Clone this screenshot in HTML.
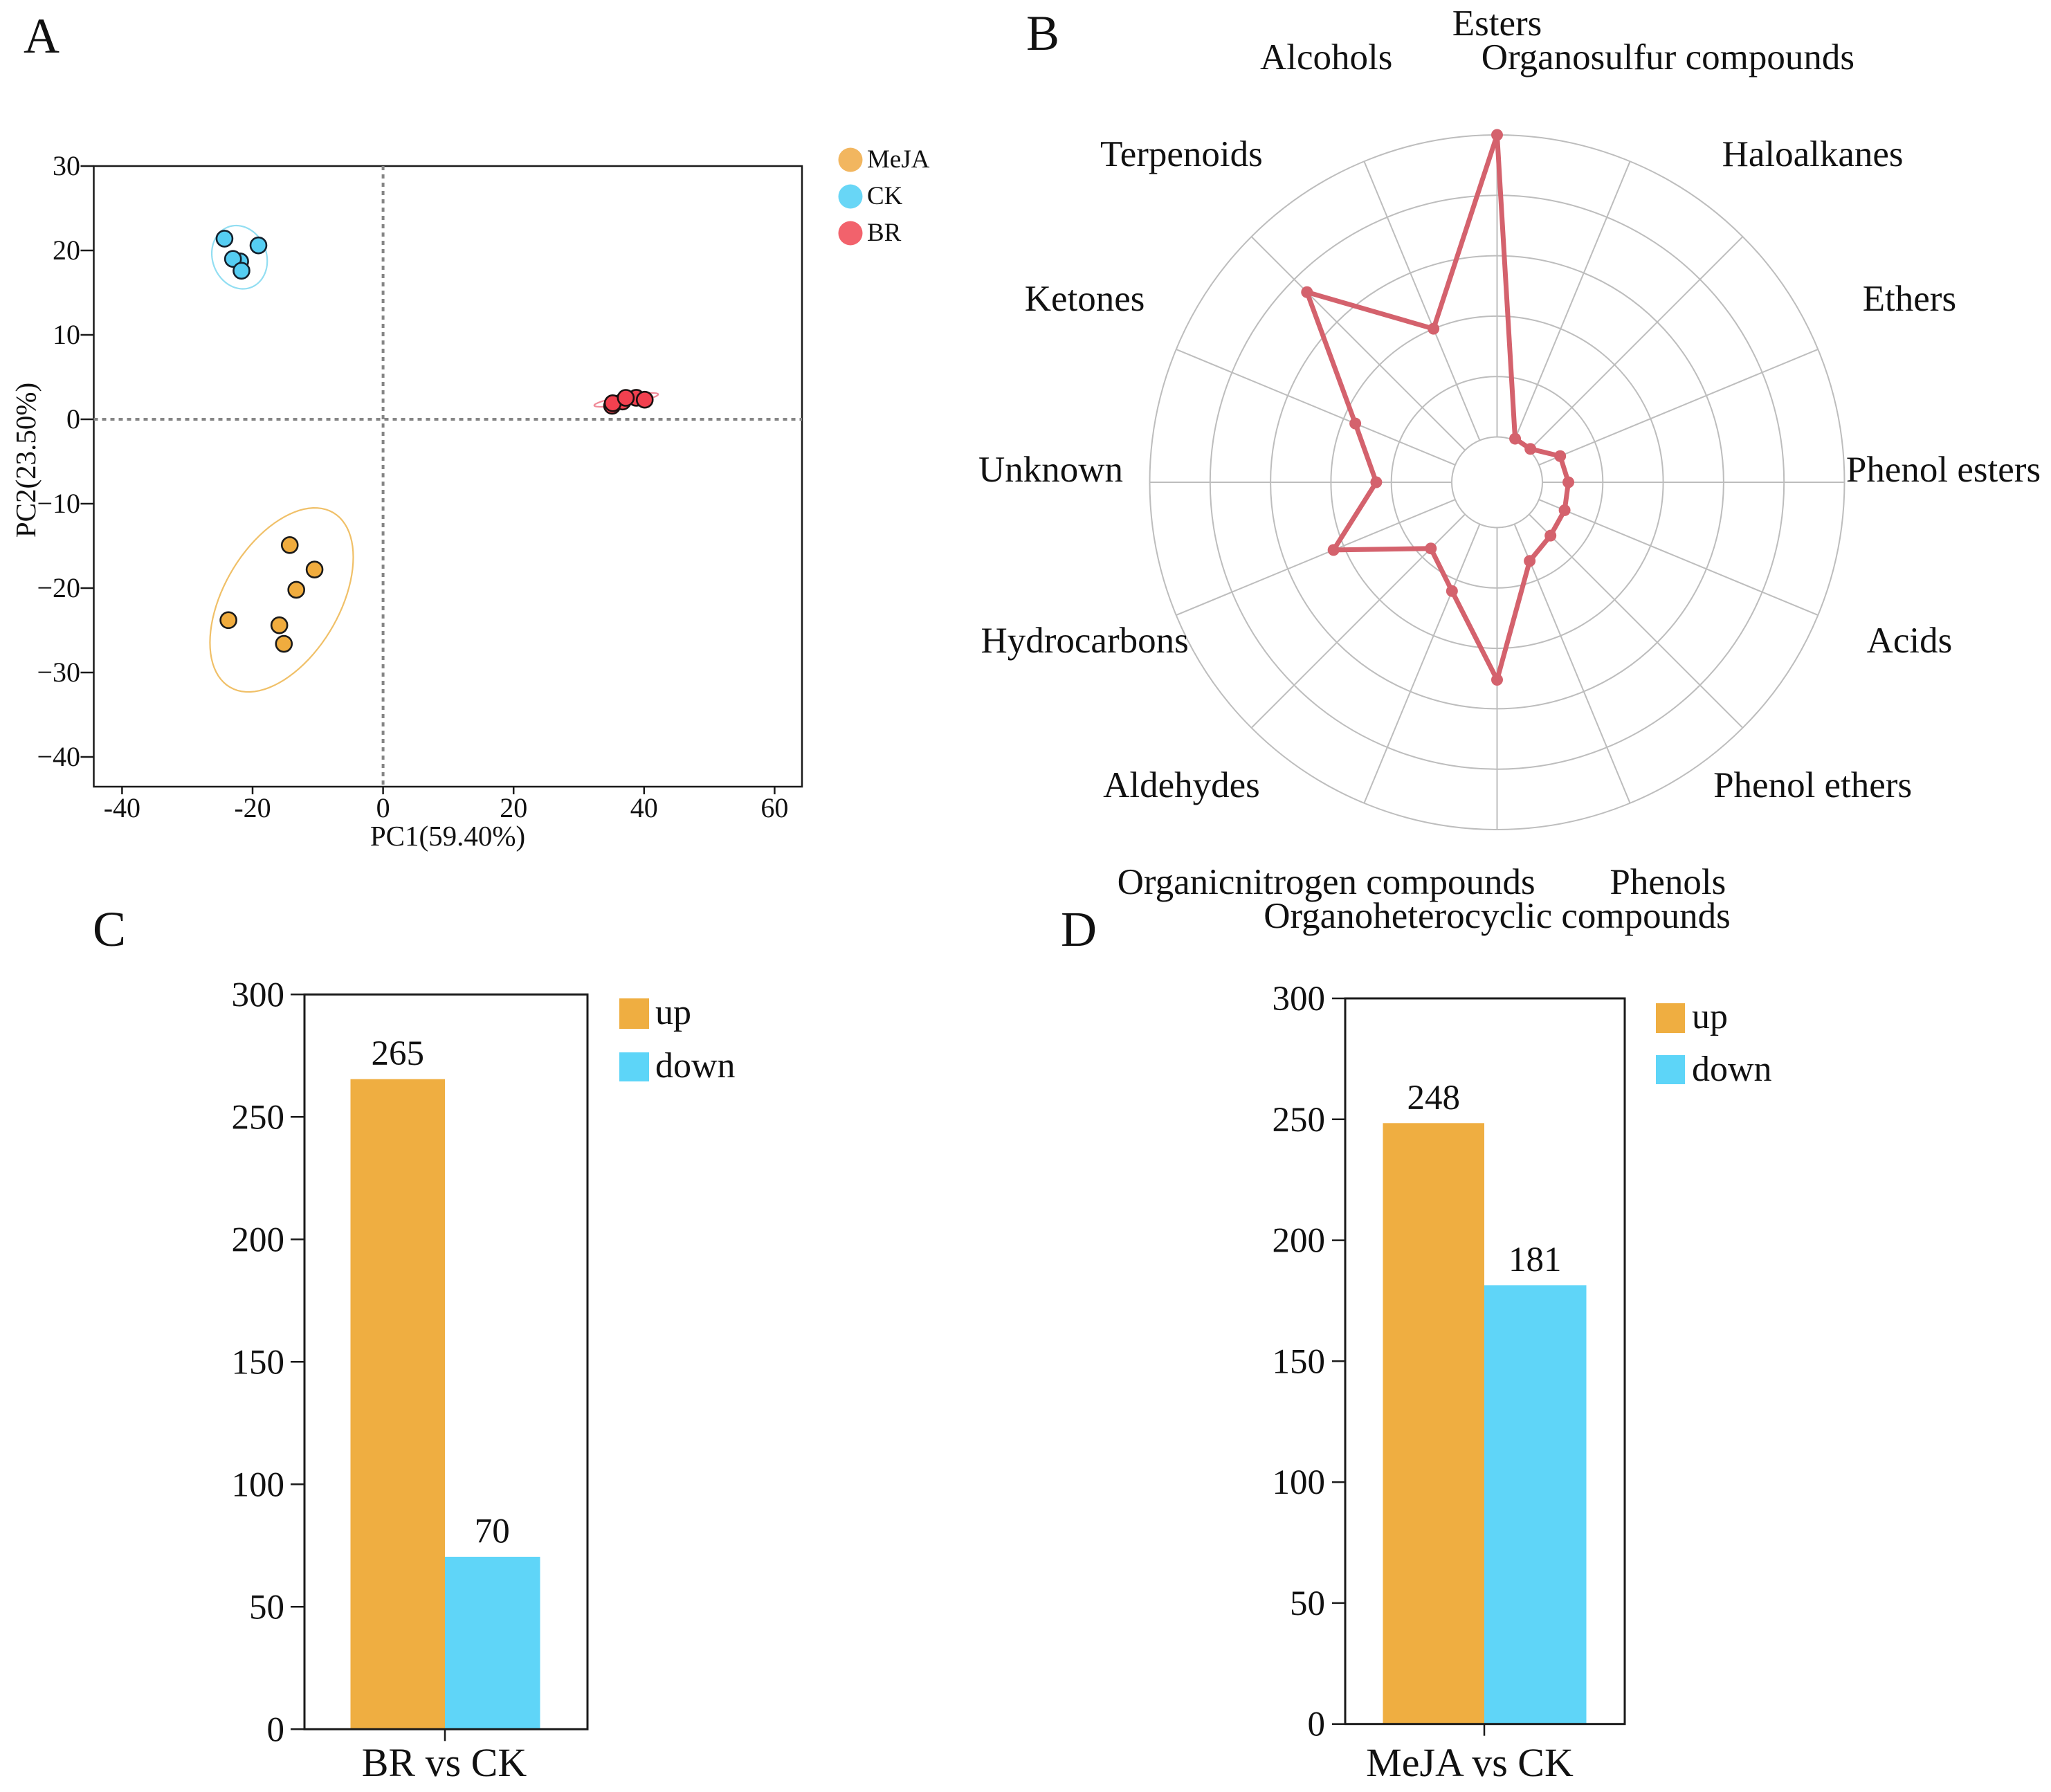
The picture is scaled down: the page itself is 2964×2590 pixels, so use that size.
<!DOCTYPE html>
<html lang="en">
<head>
<meta charset="utf-8">
<title>PCA, radar and differential metabolite bar charts</title>
<style>
html,body{margin:0;padding:0;background:#fff;}
svg{display:block;}
text{font-family:"Liberation Serif","Times New Roman",serif;fill:#111;}
</style>
</head>
<body>
<svg id="figure" xmlns="http://www.w3.org/2000/svg" width="2964" height="2590" viewBox="0 0 2964 2590">
  <rect x="0" y="0" width="2964" height="2590" fill="#fff"/>
  <text x="34" y="76" font-size="72">A</text>
  <text x="1483" y="72" font-size="72">B</text>
  <text x="134" y="1367" font-size="72">C</text>
  <text x="1533" y="1367" font-size="72">D</text>

  <g id="pca"></g>
  <text x="647" y="1222" font-size="41" text-anchor="middle">PC1(59.40%)</text>
  <text x="0" y="0" font-size="41" text-anchor="middle" transform="translate(51 665) rotate(-90)">PC2(23.50%)</text>
  <g>
    <circle cx="1229" cy="231" r="17.5" fill="#f2b65f"/>
    <text x="1253" y="242" font-size="37">MeJA</text>
    <circle cx="1229" cy="284" r="17.5" fill="#68d6f6"/>
    <text x="1253" y="295" font-size="37">CK</text>
    <circle cx="1229" cy="337" r="17.5" fill="#f2626c"/>
    <text x="1253" y="348" font-size="37">BR</text>
  </g>

  <g id="radar"></g>

  <g id="barC"></g>
  <g>
    <rect x="895" y="1443" width="43" height="44" fill="#efae41"/>
    <text x="947" y="1480" font-size="52">up</text>
    <rect x="895" y="1521" width="43" height="42" fill="#5dd5f8"/>
    <text x="947" y="1557" font-size="52">down</text>
  </g>

  <g id="barD"></g>
  <g>
    <rect x="2393" y="1450" width="42" height="43" fill="#efae41"/>
    <text x="2445" y="1486" font-size="52">up</text>
    <rect x="2393" y="1525" width="42" height="42" fill="#5dd5f8"/>
    <text x="2445" y="1562" font-size="52">down</text>
  </g>
</svg>

<script>
/* ---------- PCA data ---------- */
const pcaXTicks = [-40, -20, 0, 20, 40, 60];
const pcaYTicks = [30, 20, 10, 0, -10, -20, -30, -40];
const mejaPc1 = [-14.3, -10.5, -13.3, -23.7, -15.9, -15.2];
const mejaPc2 = [-14.9, -17.8, -20.2, -23.8, -24.4, -26.6];
const ckPc1 = [-24.3, -19.1, -21.9, -23.0, -21.7];
const ckPc2 = [21.4, 20.6, 18.7, 19.0, 17.6];
const brPc1 = [35.1, 38.8, 36.7, 35.2, 37.2, 40.1];
const brPc2 = [1.6, 2.55, 2.1, 1.9, 2.54, 2.32];
const mejaEllipse = [-15.55, -21.4, 10.98, 10.9, 0.464];
const ckEllipse = [-22.0, 19.2, 4.25, 3.75, -0.12];
const brEllipse = [37.26, 2.3, 4.9, 0.82, 0.8];

/* ---------- Radar data ---------- */
const radarCategories = ["Esters", "Organosulfur compounds", "Haloalkanes", "Ethers", "Phenol esters", "Acids", "Phenol ethers", "Phenols", "Organoheterocyclic compounds", "Organicnitrogen compounds", "Aldehydes", "Hydrocarbons", "Unknown", "Ketones", "Terpenoids", "Alcohols"];
const radarValues = [5, 0.03, 0.03, 0.38, 0.43, 0.46, 0.5, 0.66, 2.52, 1.2, 0.8, 2.18, 1.25, 1.79, 3.7, 2.0];
const radarRings = [0, 1, 2, 3, 4, 5];

/* ---------- Bar data ---------- */
const barTicks = [0, 50, 100, 150, 200, 250, 300];
const barCValues = [265, 70];
const barDValues = [248, 181];

const NS = "http://www.w3.org/2000/svg";
function mk(tag, attrs, parent, txt) {
  const el = document.createElementNS(NS, tag);
  for (const k in attrs) el.setAttribute(k, attrs[k]);
  if (txt !== undefined) el.textContent = txt;
  parent.appendChild(el);
  return el;
}
function fmt(n) { return n.toFixed(2); }

/* ---------- PCA ---------- */
(function () {
  const g = document.getElementById('pca');
  const L = 135.5, R = 1159, T = 240, B = 1137;
  const xA = v => 553.6 + v * 9.43;
  const yA = v => 606 - v * 12.2;

  const frame = mk('rect', {x: L, y: T, width: R - L, height: B - T, fill: 'none', stroke: '#1a1a1a', 'stroke-width': 2.5}, g);
  
  

  const hz = mk('line', {x1: L, x2: R, y1: yA(0), y2: yA(0), stroke: '#858585', 'stroke-width': 4, 'stroke-dasharray': '6 6'}, g);
  
  
  const vt = mk('line', {x1: xA(0), x2: xA(0), y1: T, y2: B, stroke: '#858585', 'stroke-width': 4, 'stroke-dasharray': '6 6'}, g);
  
  

  pcaXTicks.forEach(v => {
    const t = mk('line', {x1: xA(v), x2: xA(v), y1: B, y2: B + 11, stroke: '#1a1a1a', 'stroke-width': 2.5}, g);
    
    
    const l = mk('text', {x: xA(v), y: 1181, 'font-size': 40, 'text-anchor': 'middle'}, g, String(v));
    
    
  });
  pcaYTicks.forEach(v => {
    const t = mk('line', {x1: L - 19, x2: L, y1: yA(v), y2: yA(v), stroke: '#1a1a1a', 'stroke-width': 2.5}, g);
    
    
    const l = mk('text', {x: 116, y: yA(v) + 13, 'font-size': 40, 'text-anchor': 'end'}, g, String(v).replace('-', '\u2212'));
    
    
  });

  function ellipsePath(e) {
    const delta = Math.acos(e[4]);
    let d = '';
    for (let i = 0; i <= 90; i++) {
      const t = i / 90 * 2 * Math.PI;
      const px = xA(e[0] + e[2] * Math.cos(t));
      const py = yA(e[1] + e[3] * Math.cos(t - delta));
      d += (i ? 'L' : 'M') + fmt(px) + ' ' + fmt(py);
    }
    return d + 'Z';
  }
  const eM = mk('path', {d: ellipsePath(mejaEllipse), fill: 'none', stroke: '#f0c068', 'stroke-width': 2.2}, g);
  
  
  const eC = mk('path', {d: ellipsePath(ckEllipse), fill: 'none', stroke: '#92def2', 'stroke-width': 2.2}, g);
  
  
  const eB = mk('path', {d: ellipsePath(brEllipse), fill: 'none', stroke: '#f08a98', 'stroke-width': 2.2}, g);
  
  

  mejaPc1.forEach((x, i) => {
    const c = mk('circle', {cx: xA(x), cy: yA(mejaPc2[i]), r: 11.5, fill: '#f0ac3e', stroke: '#1a1a1a', 'stroke-width': 2.6}, g);
    
    
  });
  ckPc1.forEach((x, i) => {
    const c = mk('circle', {cx: xA(x), cy: yA(ckPc2[i]), r: 11.5, fill: '#55cdf2', stroke: '#14202c', 'stroke-width': 2.6}, g);
    
    
  });
  brPc1.forEach((x, i) => {
    const c = mk('circle', {cx: xA(x), cy: yA(brPc2[i]), r: 11.5, fill: '#f2404f', stroke: '#1a1010', 'stroke-width': 2.6}, g);
    
    
  });
})();

/* ---------- Radar ---------- */
(function () {
  const g = document.getElementById('radar');
  const cx = 2163.5, cy = 697;
  const rad = v => 65.5 + v * 87.3;
  const ang = i => i / radarCategories.length * 2 * Math.PI;
  const px = (r, i) => cx + r * Math.sin(ang(i));
  const py = (r, i) => cy - r * Math.cos(ang(i));
  const maxRing = radarRings[radarRings.length - 1];

  radarRings.forEach(v => {
    const c = mk('circle', {cx: cx, cy: cy, r: rad(v), fill: 'none', stroke: '#bdbdbd', 'stroke-width': 2}, g);
    
    
  });
  radarCategories.forEach((name, i) => {
    const s = mk('line', {x1: px(rad(0), i), y1: py(rad(0), i), x2: px(rad(maxRing), i), y2: py(rad(maxRing), i), stroke: '#bdbdbd', 'stroke-width': 2}, g);
    
    
    const l = mk('text', {x: px(645, i), y: py(645, i) - 1, 'font-size': 53, 'text-anchor': 'middle'}, g, name);
    
    
  });
  const pts = radarValues.map((v, i) => fmt(px(rad(v), i)) + ',' + fmt(py(rad(v), i))).join(' ');
  const line = mk('polygon', {points: pts, fill: 'none', stroke: '#d4626d', 'stroke-width': 7, 'stroke-linejoin': 'round'}, g);
  
  
  radarValues.forEach((v, i) => {
    const d = mk('circle', {cx: px(rad(v), i), cy: py(rad(v), i), r: 8.5, fill: '#d4626d'}, g);
    
    
  });
})();

/* ---------- Bars ---------- */
function drawBars(g, o, values, category) {
  const y = v => o.y0 - v * (o.y0 - o.y300) / 300;
  const w = o.barW;
  const pad = 1.5;
  barTicks.forEach(v => {
    const t = mk('line', {x1: o.tickX, x2: o.left, y1: y(v), y2: y(v), stroke: '#1a1a1a', 'stroke-width': 2.5}, g);
    
    
    const l = mk('text', {x: o.labelX, y: y(v) + 17, 'font-size': 51, 'text-anchor': 'end'}, g, String(v));
    
    
  });
  const up = mk('rect', {x: o.mid - w, y: y(values[0]) - pad, width: w, height: o.y0 - y(values[0]) + pad, fill: '#efae41'}, g);
  
  
  const down = mk('rect', {x: o.mid, y: y(values[1]) - pad, width: w + 1, height: o.y0 - y(values[1]) + pad, fill: '#5fd5f8'}, g);
  
  
  const lu = mk('text', {x: o.mid - w / 2, y: y(values[0]) - 22, 'font-size': 51, 'text-anchor': 'middle'}, g, String(values[0]));
  
  
  const ld = mk('text', {x: o.mid + w / 2, y: y(values[1]) - 22, 'font-size': 51, 'text-anchor': 'middle'}, g, String(values[1]));
  
  
  const frame = mk('rect', {x: o.left, y: o.y300, width: o.right - o.left, height: o.y0 - o.y300, fill: 'none', stroke: '#1a1a1a', 'stroke-width': 3}, g);
  
  
  const xt = mk('line', {x1: o.mid, x2: o.mid, y1: o.y0, y2: o.y0 + 17, stroke: '#1a1a1a', 'stroke-width': 2.5}, g);
  
  
  const xl = mk('text', {x: o.catX, y: 2567, 'font-size': 58, 'text-anchor': 'middle'}, g, category);
  
  
}
drawBars(document.getElementById('barC'), {left: 440, right: 849, y0: 2499.3, y300: 1437.3, mid: 643, barW: 136.5, tickX: 420, labelX: 411, catX: 642}, barCValues, 'BR vs CK');
drawBars(document.getElementById('barD'), {left: 1944, right: 2348, y0: 2491.7, y300: 1443, mid: 2145, barW: 146.5, tickX: 1925, labelX: 1915, catX: 2124}, barDValues, 'MeJA vs CK');
</script>
</body>
</html>
